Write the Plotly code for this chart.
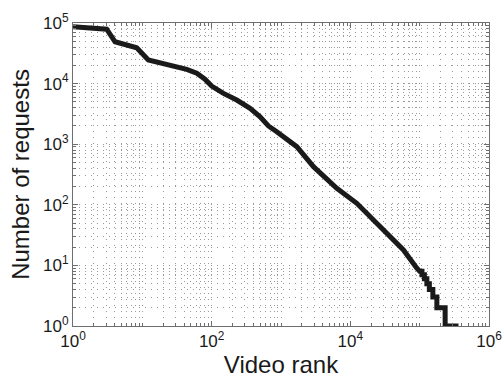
import plotly.graph_objects as go

# Ranked request counts (head and body of the distribution)
rank = [1, 3.06, 4.04, 8.3, 12.2, 18, 28, 43.7, 61, 80, 100, 148, 230, 358,
        499, 658, 869, 1690, 2940, 6380, 12400, 21500, 37500, 58300, 91000, 100000]
requests = [87000, 79000, 49000, 39000, 24500, 22100, 20000, 17200, 14800,
            11800, 9100, 6900, 5360, 3910, 2840, 2000, 1607, 910, 426, 187,
            106, 56, 29.8, 18, 9, 8]

# Tail: integer request counts and the rank where each level ends
tail_counts = [8, 7, 6, 5, 4, 3, 2, 1]
tail_end_rank = [108000, 117000, 127000, 138000, 155000, 177000, 233000, 363000]

x = list(rank)
y = list(requests)
for i, (c, r_end) in enumerate(zip(tail_counts, tail_end_rank)):
    x.append(r_end)
    y.append(c)
    if i + 1 < len(tail_counts):
        x.append(r_end)
        y.append(tail_counts[i + 1])

x_major = [1, 1e2, 1e4, 1e6]
x_major_text = ["10<sup>0</sup>", "10<sup>2</sup>", "10<sup>4</sup>", "10<sup>6</sup>"]
y_major = [1, 1e1, 1e2, 1e3, 1e4, 1e5]
y_major_text = ["10<sup>%d</sup>" % k for k in range(6)]

x_minor = [m * 10 ** k for k in range(6) for m in range(1, 10) if (m * 10 ** k) not in x_major]
y_minor = [m * 10 ** k for k in range(5) for m in range(2, 10)]

fig = go.Figure(go.Scatter(x=x, y=y, mode="lines",
                           line=dict(color="#1a1a1a", width=5),
                           showlegend=False, hoverinfo="skip"))

grid_col = "#9a9a9a"
grid_dash = "1px,5px"
axis_common = dict(type="log", showline=True, mirror="ticks", linecolor="#6e6e6e",
                   linewidth=1, ticks="inside", ticklen=5, tickcolor="#6e6e6e",
                   showgrid=True, gridcolor=grid_col, griddash=grid_dash, gridwidth=1,
                   zeroline=False, ticklabeloverflow="allow", automargin=False,
                   tickfont=dict(size=17, color="#1a1a1a"))

fig.update_xaxes(**axis_common, range=[0, 6], tickvals=x_major, ticktext=x_major_text,
                 minor=dict(tickvals=x_minor, showgrid=True, gridcolor=grid_col,
                            griddash=grid_dash, gridwidth=1, ticks="inside", ticklen=3,
                            tickcolor="#6e6e6e"),
                 title=dict(text="Video rank", font=dict(size=24, color="#1a1a1a"), standoff=2))
fig.update_yaxes(**axis_common, range=[0, 5], tickvals=y_major, ticktext=y_major_text,
                 minor=dict(tickvals=y_minor, showgrid=True, gridcolor=grid_col,
                            griddash=grid_dash, gridwidth=1, ticks="inside", ticklen=3,
                            tickcolor="#6e6e6e"),
                 title=dict(text="Number of requests", font=dict(size=24, color="#1a1a1a"), standoff=6))

fig.update_layout(width=502, height=380, margin=dict(l=73, r=13, t=23, b=54),
                  paper_bgcolor="white", plot_bgcolor="white",
                  font=dict(family="Liberation Sans, Arial, sans-serif", color="#1a1a1a"))

fig.write_html("out.html")
